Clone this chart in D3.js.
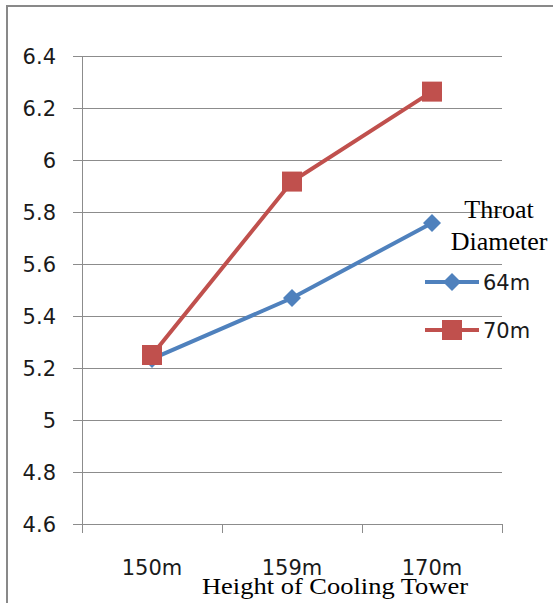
<!DOCTYPE html>
<html>
<head>
<meta charset="utf-8">
<script src="https://cdn.jsdelivr.net/npm/d3@7"></script>
<style>
  html, body { margin: 0; padding: 0; background: #fff; }
  svg { display: block; }
</style>
</head>
<body>
<svg id="chart" width="553" height="603"></svg>
<script>
const categories = ["150m", "159m", "170m"];
const seriesNames = ["64m", "70m"];
const series64 = [5.235, 5.469, 5.758];
const series70 = [5.25, 5.917, 6.263];
const yTicks = [4.6, 4.8, 5.0, 5.2, 5.4, 5.6, 5.8, 6.0, 6.2, 6.4];
const yTickLabels = ["4.6", "4.8", "5", "5.2", "5.4", "5.6", "5.8", "6", "6.2", "6.4"];
const xTitle = "Height of Cooling Tower";
const legendTitle = ["Throat", "Diameter"];

const colors = ["#4F81BD", "#C0504D"];
const svg = d3.select("#chart");

// outer frame
svg.append("line").attr("x1", 7).attr("x2", 553).attr("y1", 6).attr("y2", 6)
  .attr("stroke", "#898989").attr("stroke-width", 2);
svg.append("line").attr("x1", 7).attr("x2", 7).attr("y1", 5).attr("y2", 603)
  .attr("stroke", "#898989").attr("stroke-width", 2);

const x = d3.scaleBand().domain(categories).range([82, 502]);
const y = d3.scaleLinear().domain([4.6, 6.4]).range([524, 56]);
const cx = c => x(c) + x.bandwidth() / 2;

// gridlines
svg.append("g").selectAll("line").data(yTicks).join("line")
  .attr("x1", 73).attr("x2", 502)
  .attr("y1", d => Math.round(y(d)) + 0.5).attr("y2", d => Math.round(y(d)) + 0.5)
  .attr("stroke", "#8c8c8c").attr("stroke-width", 1);

// y axis line
svg.append("line").attr("x1", 82.5).attr("x2", 82.5).attr("y1", y(6.4)).attr("y2", y(4.6))
  .attr("stroke", "#8c8c8c").attr("stroke-width", 1);

// x ticks at band edges
const edges = categories.map(c => x(c)).concat([x(categories[categories.length - 1]) + x.bandwidth()]);
svg.append("g").selectAll("line").data(edges).join("line")
  .attr("x1", d => Math.round(d) + 0.5).attr("x2", d => Math.round(d) + 0.5)
  .attr("y1", y(4.6)).attr("y2", y(4.6) + 9)
  .attr("stroke", "#8c8c8c").attr("stroke-width", 1);

// y tick labels
svg.append("g").selectAll("text").data(yTicks).join("text")
  .attr("x", 56).attr("y", d => y(d)).attr("dy", "0.36em")
  .attr("text-anchor", "end")
  .attr("font-family", "DejaVu Sans").attr("font-size", 21).attr("fill", "#1a1a1a")
  .text((d, i) => yTickLabels[i]);

// x tick labels
svg.append("g").selectAll("text").data(categories).join("text")
  .attr("x", d => cx(d)).attr("y", 575)
  .attr("text-anchor", "middle")
  .attr("font-family", "DejaVu Sans").attr("font-size", 21).attr("fill", "#1a1a1a")
  .text(d => d);

// x title
svg.append("text").attr("x", 202).attr("y", 594)
  .attr("font-family", "Liberation Serif").attr("font-size", 24).attr("fill", "#000")
  .attr("textLength", 266).attr("lengthAdjust", "spacingAndGlyphs")
  .text(xTitle);

const line = d3.line().x((d, i) => cx(categories[i])).y(d => y(d));
const allSeries = [series64, series70];

function diamond(g, px, py, color, r) {
  g.append("path")
    .attr("d", `M${px},${py - r}L${px + r},${py}L${px},${py + r}L${px - r},${py}Z`)
    .attr("fill", color);
}
function square(g, px, py, color, s) {
  g.append("rect").attr("x", px - s / 2).attr("y", py - s / 2)
    .attr("width", s).attr("height", s).attr("fill", color);
}

allSeries.forEach((vals, si) => {
  const g = svg.append("g");
  g.append("path").datum(vals).attr("d", line)
    .attr("fill", "none").attr("stroke", colors[si]).attr("stroke-width", 4);
  vals.forEach((v, i) => {
    if (si === 0) diamond(g, cx(categories[i]), y(v), colors[si], 9);
    else square(g, cx(categories[i]), y(v), colors[si], 20);
  });
});

// legend
const lg = svg.append("g");
lg.selectAll("text.title").data(legendTitle).join("text")
  .attr("class", "title")
  .attr("x", 499).attr("y", (d, i) => 218 + i * 32)
  .attr("text-anchor", "middle")
  .attr("font-family", "Liberation Serif").attr("font-size", 26).attr("fill", "#000")
  .text(d => d);

seriesNames.forEach((name, si) => {
  const ly = 282 + si * 48;
  lg.append("line").attr("x1", 425).attr("x2", 479).attr("y1", ly).attr("y2", ly)
    .attr("stroke", colors[si]).attr("stroke-width", 4);
  if (si === 0) diamond(lg, 452, ly, colors[si], 9);
  else square(lg, 452, ly, colors[si], 20);
  lg.append("text").attr("x", 483).attr("y", ly + 8)
    .attr("font-family", "DejaVu Sans").attr("font-size", 21).attr("fill", "#1a1a1a")
    .text(name);
});
</script>
</body>
</html>
